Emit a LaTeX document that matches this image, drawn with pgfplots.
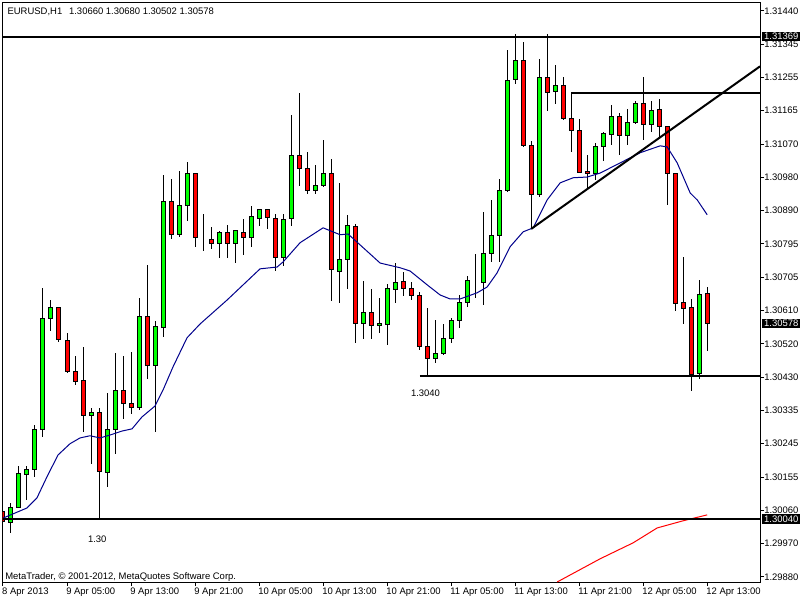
\documentclass[border=0pt]{standalone}
\usepackage{fontspec}
\setmainfont{Liberation Sans}
\usepackage{pgfplots}
\usepackage{pgfplotstable}
\pgfplotsset{compat=1.18}
\definecolor{mtgreen}{RGB}{0,255,0}
\definecolor{mtred}{RGB}{255,0,0}
\definecolor{mtblue}{RGB}{0,0,140}
\newcommand{\mtfont}{\fontsize{7.1bp}{8.4bp}\selectfont}

\pgfplotstableread{
i O H L C
0 1.30059 1.30063 1.29908 1.30033
1 1.30031 1.30085 1.30000 1.30072
2 1.30072 1.30187 1.30069 1.30164
3 1.30163 1.30186 1.30092 1.30175
4 1.30177 1.30299 1.30154 1.30285
5 1.30285 1.30675 1.30265 1.30591
6 1.30591 1.30643 1.30559 1.30622
7 1.30622 1.30625 1.30526 1.30535
8 1.30532 1.30553 1.30443 1.30446
9 1.30445 1.30489 1.30410 1.30419
10 1.30420 1.30515 1.30278 1.30325
11 1.30325 1.30346 1.30191 1.30334
12 1.30334 1.30345 1.30040 1.30170
13 1.30169 1.30388 1.30129 1.30285
14 1.30285 1.30498 1.30219 1.30393
15 1.30393 1.30489 1.30315 1.30359
16 1.30359 1.30499 1.30328 1.30348
17 1.30347 1.30649 1.30340 1.30599
18 1.30599 1.30740 1.30425 1.30462
19 1.30462 1.30586 1.30278 1.30570
20 1.30568 1.30988 1.30542 1.30915
21 1.30915 1.30977 1.30811 1.30825
22 1.30825 1.30999 1.30818 1.30904
23 1.30904 1.31023 1.30862 1.30991
24 1.30991 1.30994 1.30790 1.30814
25 1.30813 1.30880 1.30779 1.30813
26 1.30811 1.30844 1.30783 1.30800
27 1.30800 1.30834 1.30758 1.30830
28 1.30830 1.30849 1.30758 1.30800
29 1.30800 1.30834 1.30745 1.30834
30 1.30830 1.30867 1.30768 1.30814
31 1.30814 1.30903 1.30788 1.30874
32 1.30869 1.30893 1.30846 1.30893
33 1.30893 1.30894 1.30840 1.30871
34 1.30869 1.30880 1.30724 1.30760
35 1.30760 1.30880 1.30738 1.30866
36 1.30869 1.31153 1.30846 1.31040
37 1.31040 1.31214 1.30958 1.31006
38 1.31006 1.31051 1.30934 1.30946
39 1.30945 1.31016 1.30936 1.30960
40 1.30960 1.31084 1.30954 1.30993
41 1.30993 1.31031 1.30641 1.30728
42 1.30721 1.30966 1.30636 1.30756
43 1.30756 1.30877 1.30673 1.30849
44 1.30847 1.30852 1.30526 1.30579
45 1.30579 1.30695 1.30537 1.30610
46 1.30610 1.30673 1.30537 1.30574
47 1.30572 1.30648 1.30553 1.30577
48 1.30576 1.30687 1.30518 1.30675
49 1.30673 1.30745 1.30636 1.30690
50 1.30694 1.30721 1.30653 1.30675
51 1.30675 1.30694 1.30643 1.30656
52 1.30656 1.30664 1.30506 1.30515
53 1.30515 1.30621 1.30433 1.30483
54 1.30483 1.30588 1.30469 1.30497
55 1.30497 1.30577 1.30492 1.30538
56 1.30536 1.30594 1.30526 1.30586
57 1.30586 1.30657 1.30565 1.30636
58 1.30636 1.30708 1.30625 1.30697
59 1.30696 1.30770 1.30648 1.30696
60 1.30691 1.30886 1.30630 1.30772
61 1.30772 1.30919 1.30749 1.30820
62 1.30822 1.30977 1.30749 1.30946
63 1.30944 1.31333 1.30942 1.31247
64 1.31252 1.31375 1.31238 1.31302
65 1.31304 1.31354 1.31066 1.31069
66 1.31070 1.31080 1.30839 1.30935
67 1.30935 1.31307 1.30927 1.31257
68 1.31257 1.31375 1.31164 1.31216
69 1.31219 1.31291 1.31183 1.31235
70 1.31235 1.31257 1.31138 1.31142
71 1.31144 1.31214 1.31052 1.31111
72 1.31111 1.31142 1.30993 1.30995
73 1.30996 1.31043 1.30951 1.30991
74 1.30991 1.31075 1.30974 1.31065
75 1.31066 1.31105 1.31025 1.31103
76 1.31100 1.31181 1.31071 1.31149
77 1.31149 1.31158 1.31043 1.31096
78 1.31096 1.31170 1.31071 1.31133
79 1.31132 1.31192 1.31129 1.31186
80 1.31186 1.31259 1.31084 1.31128
81 1.31128 1.31192 1.31107 1.31166
82 1.31169 1.31197 1.31092 1.31122
83 1.31122 1.31122 1.30905 1.30993
84 1.30991 1.30991 1.30614 1.30634
85 1.30636 1.30763 1.30577 1.30621
86 1.30623 1.30646 1.30391 1.30437
87 1.30441 1.30699 1.30426 1.30657
88 1.30660 1.30680 1.30502 1.30578
}\candles

\begin{document}
\begin{tikzpicture}
\path[use as bounding box, fill=white] (0,0) rectangle (600bp,450bp);
\pgfplotsset{mtaxis/.style={at={(1.875bp,13.5bp)}, anchor=south west,
  width=568.125bp, height=434.625bp, scale only axis,
  xmin=-0.06, xmax=94.6, ymin=1.29866, ymax=1.31463, enlargelimits=false}}
\begin{axis}[mtaxis,
  axis line style={black, line width=0.75bp},
  ytick pos=right, yticklabel pos=right,
  xtick pos=bottom, xticklabel pos=bottom,
  tick align=outside, major tick length=3bp,
  tick style={black, line width=0.75bp},
  scaled y ticks=false,
  ytick={1.31440,1.313482,1.312565,1.311647,1.310729,1.309812,1.308894,1.307976,1.307059,1.306141,1.305224,1.304306,1.303388,1.302471,1.301553,1.300635,1.299718,1.29880},
  yticklabels={1.31440,1.31345,1.31255,1.31165,1.31070,1.30980,1.30890,1.30795,1.30705,1.30610,1.30520,1.30430,1.30335,1.30245,1.30155,1.30060,1.29970,1.29880},
  xtick={0,8,16,24,32,40,48,56,64,72,80,88},
  xticklabels={8 Apr 2013,9 Apr 05:00,9 Apr 13:00,9 Apr 21:00,10 Apr 05:00,10 Apr 13:00,10 Apr 21:00,11 Apr 05:00,11 Apr 13:00,11 Apr 21:00,12 Apr 05:00,12 Apr 13:00},
  yticklabel style={anchor=west, inner sep=0pt},
  xticklabel style={anchor=north west, inner sep=0pt, xshift=-0.75bp, yshift=-1.5bp},
  tick label style={font=\mtfont},
]
\addplot[only marks, mark=*, mark size=0pt, mark options={draw opacity=0, fill opacity=0}, black,
  error bars/.cd, y dir=both, y explicit, error mark=none,
  error bar style={black, line width=0.75bp, draw opacity=1}]
  table[x=i, y=C, y error plus expr=\thisrow{H}-\thisrow{C}, y error minus expr=\thisrow{C}-\thisrow{L}]{\candles};
\end{axis}
\begin{axis}[mtaxis, hide axis, ybar stacked, bar width=3bp]
\addplot[draw=none, fill=none] table[x=i, y expr={min(\thisrow{O},\thisrow{C})}]{\candles};
\addplot[fill=mtgreen, draw=black, line width=0.75bp] table[x=i, y expr={max(\thisrow{C}-\thisrow{O},0)}]{\candles};
\addplot[fill=mtred, draw=black, line width=0.75bp] table[x=i, y expr={max(\thisrow{O}-\thisrow{C},0)}]{\candles};
\end{axis}
\begin{axis}[mtaxis, hide axis, clip=false]
\addplot[mtblue, line width=0.75bp, mark=none] coordinates {(0,1.30042)(3,1.30070)(4.25,1.30098)(5.5,1.30156)(6.875,1.30216)(8.375,1.30247)(9.625,1.30263)(10.875,1.30269)(12.125,1.30263)(13.375,1.30271)(14.875,1.30282)(16.125,1.30288)(17.375,1.30321)(19,1.30351)(20,1.30395)(21.25,1.30459)(23,1.30539)(24.625,1.30577)(28,1.30643)(32.125,1.30729)(34.25,1.30734)(35,1.30748)(37.125,1.30801)(40,1.30842)(42.125,1.30823)(43.125,1.30825)(44.625,1.30795)(47.125,1.30745)(49.625,1.30732)(50.875,1.30723)(53,1.30685)(54.625,1.30657)(55.875,1.30646)(57.125,1.30646)(59.25,1.30663)(60.5,1.30679)(61.75,1.30718)(63.375,1.30790)(65,1.30831)(66.25,1.30842)(68,1.30919)(69.625,1.30966)(71.25,1.30980)(73,1.30982)(74.625,1.30993)(77.125,1.31021)(79.625,1.31049)(82.125,1.31068)(83,1.31065)(84.25,1.31021)(85.875,1.30938)(86.75,1.30919)(88,1.30878)};
\addplot[mtred, line width=0.75bp, mark=none] coordinates {(69.25,1.29866)(74.625,1.29930)(78.75,1.29974)(81.75,1.30015)(84.875,1.30034)(88,1.30051)};
\addplot[black, line width=1.5bp, mark=none] coordinates {(-0.06,1.31369)(94.6,1.31369)};
\addplot[black, line width=1.5bp, mark=none] coordinates {(-0.06,1.30040)(94.6,1.30040)};
\addplot[black, line width=1.5bp, mark=none] coordinates {(52.1,1.30433)(94.6,1.30433)};
\addplot[black, line width=1.5bp, mark=none] coordinates {(71,1.31214)(94.6,1.31214)};
\addplot[black, line width=1.5bp, mark=none] coordinates {(66,1.30839)(94.6,1.31287)};
\node[anchor=base west, inner sep=0pt, font=\mtfont] at (axis cs:10.6,1.29976) {1.30};
\node[anchor=base west, inner sep=0pt, font=\mtfont] at (axis cs:50.96,1.30376) {1.3040};
\node[anchor=north west, inner sep=0pt, font=\mtfont, xshift=3.6bp, yshift=-3.6bp] at (rel axis cs:0,1) {EURUSD,H1\ \ \,1.30660 1.30680 1.30502 1.30578};
\node[anchor=base west, inner sep=0pt, font=\mtfont, xshift=1.9bp, yshift=2.25bp] at (rel axis cs:0,0) {MetaTrader, © 2001-2012, MetaQuotes Software Corp.};
\node[fill=black, text=white, font=\mtfont, anchor=west, inner sep=0pt, minimum width=28.5bp, minimum height=7bp, xshift=1.5bp] at (axis cs:94.6,1.31369) {1.31369};
\node[fill=black, text=white, font=\mtfont, anchor=west, inner sep=0pt, minimum width=28.5bp, minimum height=7bp, xshift=1.5bp] at (axis cs:94.6,1.30578) {1.30578};
\node[fill=black, text=white, font=\mtfont, anchor=west, inner sep=0pt, minimum width=28.5bp, minimum height=7bp, xshift=1.5bp] at (axis cs:94.6,1.30040) {1.30040};
\end{axis}
\end{tikzpicture}
\end{document}
